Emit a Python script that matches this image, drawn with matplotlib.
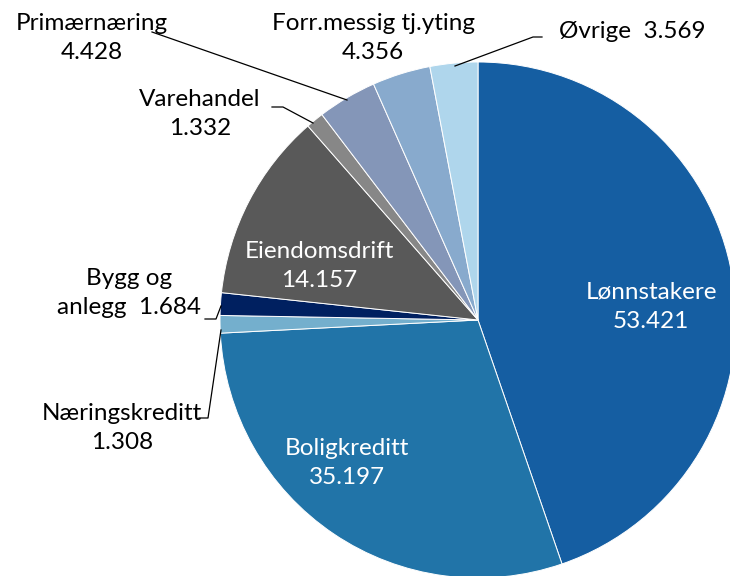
import matplotlib
matplotlib.use("Agg")
import matplotlib.pyplot as plt

labels = ["Lønnstakere", "Boligkreditt", "Næringskreditt", "Bygg og anlegg",
          "Eiendomsdrift", "Varehandel", "Primærnæring", "Forr.messig tj.yting", "Øvrige"]
values = [53.421, 35.197, 1.308, 1.684, 14.157, 1.332, 4.428, 4.356, 3.569]
value_text = ["53.421", "35.197", "1.308", "1.684", "14.157", "1.332", "4.428", "4.356", "3.569"]
colors = ["#155EA2", "#2174A8", "#74AFCD", "#002060", "#595959", "#878787",
          "#8496B8", "#88AACD", "#AFD6EC"]

plt.rcParams['font.family'] = ['Lato', 'DejaVu Sans']
W, H = 730, 576
fig = plt.figure(figsize=(W/100, H/100), dpi=100)
ax = fig.add_axes([0, 0, 1, 1])

cx, cy, r = 478, H - 320, 258
ax.pie(values, colors=colors, startangle=90, counterclock=False, center=(cx, cy),
       radius=r, wedgeprops=dict(edgecolor='white', linewidth=0.7), frame=True)
ax.set_xlim(0, W)
ax.set_ylim(0, H)
ax.set_aspect('equal')
ax.axis('off')

fs = 17.5
def txt(x, y, s, color='black'):
    ax.text(x, H - y, s, ha='center', va='center', fontsize=fs, color=color, linespacing=1.48)

txt(651, 307, f"{labels[0]}\n{value_text[0]}", 'white')
txt(347, 463, f"{labels[1]}\n{value_text[1]}", 'white')
txt(319, 266, f"{labels[4]}\n{value_text[4]}", 'white')
txt(92, 38, f"{labels[6]}\n{value_text[6]}")
txt(200, 114, f"{labels[5]}\n{value_text[5]}")
txt(373, 38, f"{labels[7]}\n{value_text[7]}")
txt(632, 32, f"{labels[8]}  {value_text[8]}")
txt(129, 293, f"Bygg og\nanlegg  {value_text[3]}")
txt(122, 428, f"{labels[2]}\n{value_text[2]}")

def leader(pts):
    xs = [p[0] for p in pts]
    ys = [H - p[1] for p in pts]
    ax.plot(xs, ys, color='black', linewidth=0.9)

leader([(152, 32), (347, 100)])
leader([(272, 107), (283, 107), (313, 123)])
leader([(542, 37), (533, 37), (455, 66)])
leader([(205, 319), (216, 319), (221, 306)])
leader([(199, 418), (208, 418), (221, 330)])

fig.savefig("out.png", dpi=100)
